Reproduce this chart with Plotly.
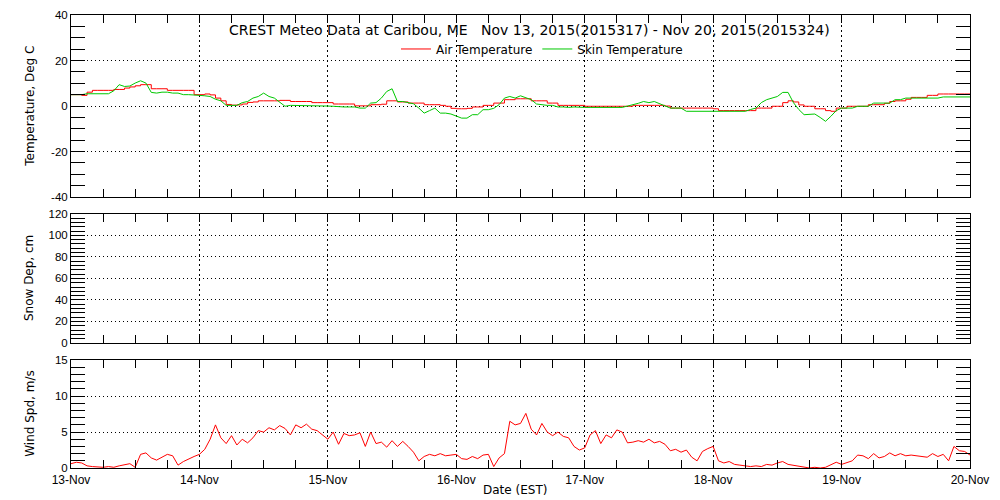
import pandas as pd
import plotly.graph_objects as go

# ---------------- data (hourly) ----------------
times = pd.date_range("2015-11-13 00:00", "2015-11-20 00:00", freq="h")

air_temp = [
    5.0, 5.0, 4.7, 6.1, 6.9, 6.9, 6.9, 6.9, 7.3, 7.3, 7.9, 8.4, 8.9, 9.4, 9.4, 7.6,
    7.6, 7.6, 6.9, 6.9, 6.9, 6.9, 6.9, 5.0, 5.0, 5.3, 4.9, 3.5, 2.3, 0.7, 0.4, 0.5,
    0.9, 1.6, 1.8, 2.3, 2.3, 2.3, 2.3, 2.5, 2.5, 2.0, 2.0, 2.0, 2.0, 1.5, 1.5, 1.5,
    1.5, 0.9, 0.9, 0.9, 0.9, 0.1, 0.1, 0.1,
    0.6, 0.6, 0.8, 2.3, 2.3, 1.8, 1.8, 1.3, 1.3, 1.3, 0.6, 0.6, 0.6, 0.3, -0.1, -1.0,
    -1.2, -1.2, -1.0, -0.4, -0.4, 0.3, 0.3, 1.3, 1.3, 2.8, 2.8, 3.2, 3.2, 3.2, 2.3, 2.3,
    2.3, 1.3, 1.3, 0.3, 0.3, 0.3, 0.3, 0.3, -0.1, -0.1, -0.1, -0.1, -0.1, -0.1, -0.1, -0.1,
    -0.1, 0.3, 0.3, 0.3, 0.3, 0.3, 0.3, 0.0,
    -0.9, -0.9, -0.9, -0.9, -0.9, -0.9, -0.9, -0.9, -1.2, -2.0, -2.0, -2.0, -2.0, -2.0, -2.0, -2.0,
    -0.9, -0.9, -0.9, -0.1, -0.1, 1.5, 2.3, 1.8, 0.5, -0.1, -0.1, -1.2, -1.2, -2.0, -2.3, -0.9,
    -0.9, -0.1, -0.1, -0.1, -0.1, 0.6, 0.6, 0.6, 1.2, 2.0, 2.3, 2.3, 3.0, 3.8, 3.8, 3.8,
    4.7, 4.7, 5.3, 5.3, 5.3, 5.3, 5.3, 5.3, 5.0,
]

skin_temp = [
    5.0, 5.0, 5.0, 5.4, 5.4, 5.4, 5.4, 5.4, 6.7, 9.4, 8.6, 8.8, 10.1, 11.1, 10.1, 6.0,
    5.7, 6.1, 6.1, 5.7, 5.7, 5.0, 5.0, 4.7, 4.7, 4.5, 4.2, 3.0, 2.3, 0.3, 0.3, 0.3,
    1.5, 2.0, 3.5, 4.2, 5.7, 4.2, 3.5, 1.8, -0.1, 0.3, 0.3, 0.3, 0.3, 0.3, 0.3, 0.3,
    0.0, -0.1, -0.4, -0.4, -0.4, -0.4, -0.9, -0.9,
    1.3, 1.5, 3.5, 6.4, 7.6, 2.0, 2.0, 1.5, 1.0, -0.9, -3.1, -2.0, -0.9, -3.1, -3.1, -3.5,
    -4.5, -5.3, -5.3, -3.8, -3.8, -1.6, -1.6, -1.0, 0.6, 3.5, 4.2, 3.5, 4.5, 3.5, 2.8, 0.9,
    0.5, 0.3, 0.3, -0.4, -0.4, -0.6, -0.4, -0.6, -0.6, -0.6, -0.6, -0.6, -0.6, -0.6, -0.6, -0.6,
    0.0, 0.5, 1.2, 2.0, 1.5, 2.0, 1.0, -0.1,
    -0.9, -0.9, -0.9, -2.3, -2.3, -2.3, -2.3, -2.3, -2.3, -2.3, -2.3, -2.3, -2.3, -2.3, -2.3, -1.5,
    -0.9, 1.5, 2.8, 3.5, 4.2, 6.0, 6.0, 1.5, -1.5, -3.8, -3.5, -3.5, -5.0, -6.7, -4.5, -2.0,
    -0.9, -0.9, -0.9, -0.1, -0.1, -0.1, 1.3, 1.3, 1.3, 1.3, 2.8, 2.8, 3.5, 3.5, 3.5, 3.5,
    3.5, 3.5, 3.5, 4.0, 4.0, 4.0, 4.0, 4.0, 4.0,
]

snow_depth = []  # no snow-depth data in this period

wind_speed = [
    0.6, 0.8, 0.7, 0.3, 0.2, 0.1, 0.1, 0.2, 0.1, 0.3, 0.5, 0.6, 0.1, 1.9, 2.1, 1.4,
    1.1, 1.5, 1.9, 1.7, 0.4, 0.9, 1.3, 1.6, 1.9, 2.6, 4.0, 6.0, 4.2, 3.4, 4.5, 3.2,
    4.0, 3.5, 4.2, 5.2, 5.0, 5.6, 5.3, 5.9, 5.5, 4.6, 6.0, 5.6, 6.1, 5.4, 5.2, 4.6,
    4.0, 5.0, 3.3, 4.8, 4.5, 4.6, 4.9, 3.0,
    5.0, 3.4, 3.6, 2.9, 3.8, 3.0, 3.7, 3.0, 2.2, 1.0, 1.6, 1.9, 1.7, 2.0, 1.7, 1.8,
    1.9, 1.3, 1.2, 1.6, 1.3, 1.8, 1.9, 0.2, 1.4, 2.0, 6.5, 6.0, 6.2, 7.6, 5.4, 4.6,
    6.2, 5.0, 4.5, 5.0, 4.4, 4.2, 3.0, 2.5, 2.8, 4.6, 5.2, 3.4, 4.6, 4.2, 5.3, 5.0,
    3.5, 3.6, 3.8, 3.6, 4.0, 3.5, 3.7, 3.3,
    2.4, 2.6, 2.2, 2.5, 1.5, 1.0, 2.3, 2.7, 3.0, 1.0, 0.7, 0.9, 0.5, 0.4, 0.3, 0.2,
    0.3, 0.2, 0.5, 0.4, 0.7, 0.9, 0.5, 0.4, 0.2, 0.1, 0.0, 0.1, 0.0, 0.1, 0.4, 0.8,
    0.5, 0.8, 1.0, 1.8, 1.7, 1.3, 2.0, 1.4, 1.6, 2.1, 1.7, 2.0, 1.7, 1.8, 1.7, 1.7,
    1.5, 2.0, 1.6, 1.9, 1.0, 3.0, 2.4, 2.3, 1.8,
]

temp_ticks = [-40, -20, 0, 20, 40]
snow_ticks = [0, 20, 40, 60, 80, 100, 120]
wind_ticks = [0, 5, 10, 15]

title_text = "CREST Meteo Data at Caribou, ME   Nov 13, 2015(2015317) - Nov 20, 2015(2015324)"

# ---------------- figure ----------------
WIDE = "DejaVu Sans"
NARROW = "Liberation Sans"
RED = "#ff0000"
GREEN = "#00c800"

fig = go.Figure()
fig.add_trace(go.Scatter(x=times, y=air_temp, mode="lines", name="Air Temperature",
                         line=dict(color=RED, width=1, shape="hv"),
                         xaxis="x", yaxis="y"))
fig.add_trace(go.Scatter(x=times, y=skin_temp, mode="lines", name="Skin Temperature",
                         line=dict(color=GREEN, width=1),
                         xaxis="x", yaxis="y"))
fig.add_trace(go.Scatter(x=times[:len(snow_depth)], y=snow_depth, mode="lines",
                         showlegend=False, line=dict(color=RED, width=1),
                         xaxis="x2", yaxis="y2"))
fig.add_trace(go.Scatter(x=times, y=wind_speed, mode="lines", showlegend=False,
                         line=dict(color=RED, width=1),
                         xaxis="x3", yaxis="y3"))

xr = [times[0], times[-1]]

def xaxis(show_labels, anchor):
    return dict(
        type="date", range=xr, anchor=anchor, domain=[0, 1], automargin=False,
        showline=True, linecolor="black", linewidth=1, mirror="ticks",
        ticks="inside", ticklen=8, tickcolor="black",
        dtick=86400000, tick0="2015-11-13", tickformat="%d-%b",
        showticklabels=show_labels, ticklabelstandoff=1,
        tickfont=dict(family=NARROW, size=12, color="black"),
        showgrid=True, gridcolor="black", griddash="2px,3px", gridwidth=1,
        minor=dict(ticks="inside", ticklen=8, dtick=21600000, tickcolor="black",
                   showgrid=False),
        zeroline=False,
    )

def yaxis(rng, ticks, minor_dtick, domain, anchor):
    return dict(
        range=rng, domain=domain, anchor=anchor, automargin=False,
        showline=True, linecolor="black", linewidth=1, mirror="ticks",
        ticks="inside", ticklen=14, tickcolor="black",
        tickmode="array", tickvals=ticks, ticktext=[str(t) for t in ticks],
        tickfont=dict(family=NARROW, size=11.5, color="black"),
        showgrid=True, gridcolor="black", griddash="1px,3px", gridwidth=1,
        minor=dict(ticks="inside", ticklen=14, dtick=minor_dtick, tickcolor="black",
                   showgrid=False),
        zeroline=False,
    )

# the page body adds an 8px offset; margins compensate for it
fig.update_layout(
    width=1000, height=500,
    margin=dict(l=63, r=38, t=7, b=40),
    paper_bgcolor="white", plot_bgcolor="white",
    font=dict(family=WIDE, size=12, color="black"),
    xaxis=xaxis(False, "y"),
    xaxis2=xaxis(False, "y2"),
    xaxis3=xaxis(True, "y3"),
    yaxis=yaxis([-40, 40], temp_ticks, 5, [0.598, 1.0], "x"),
    yaxis2=yaxis([0, 120], snow_ticks, 4, [0.276, 0.561], "x2"),
    yaxis3=yaxis([0, 15], wind_ticks, 1, [0.0, 0.238], "x3"),
    showlegend=True,
    legend=dict(orientation="h", x=0.3615, xanchor="left", y=0.925, yanchor="middle",
                bgcolor="rgba(0,0,0,0)", font=dict(family=WIDE, size=12),
                itemwidth=30, tracegroupgap=0),
)

annotations = [
    dict(text=title_text, x=0.51, y=0.967, xref="paper", yref="paper",
         xanchor="center", yanchor="middle", showarrow=False,
         font=dict(family=WIDE, size=14)),
    dict(text="Temperature, Deg C", x=-0.046, y=0.799, xref="paper", yref="paper",
         textangle=-90, showarrow=False, xanchor="center", yanchor="middle",
         font=dict(family=WIDE, size=12)),
    dict(text="Snow Dep, cm", x=-0.046, y=0.4185, xref="paper", yref="paper",
         textangle=-90, showarrow=False, xanchor="center", yanchor="middle",
         font=dict(family=WIDE, size=12)),
    dict(text="Wind Spd, m/s", x=-0.046, y=0.119, xref="paper", yref="paper",
         textangle=-90, showarrow=False, xanchor="center", yanchor="middle",
         font=dict(family=WIDE, size=12)),
    dict(text="Date (EST)", x=0.494, y=-0.049, xref="paper", yref="paper",
         showarrow=False, xanchor="center", yanchor="middle",
         font=dict(family=WIDE, size=12)),
]
fig.update_layout(annotations=annotations)

fig.write_html("out.html")
